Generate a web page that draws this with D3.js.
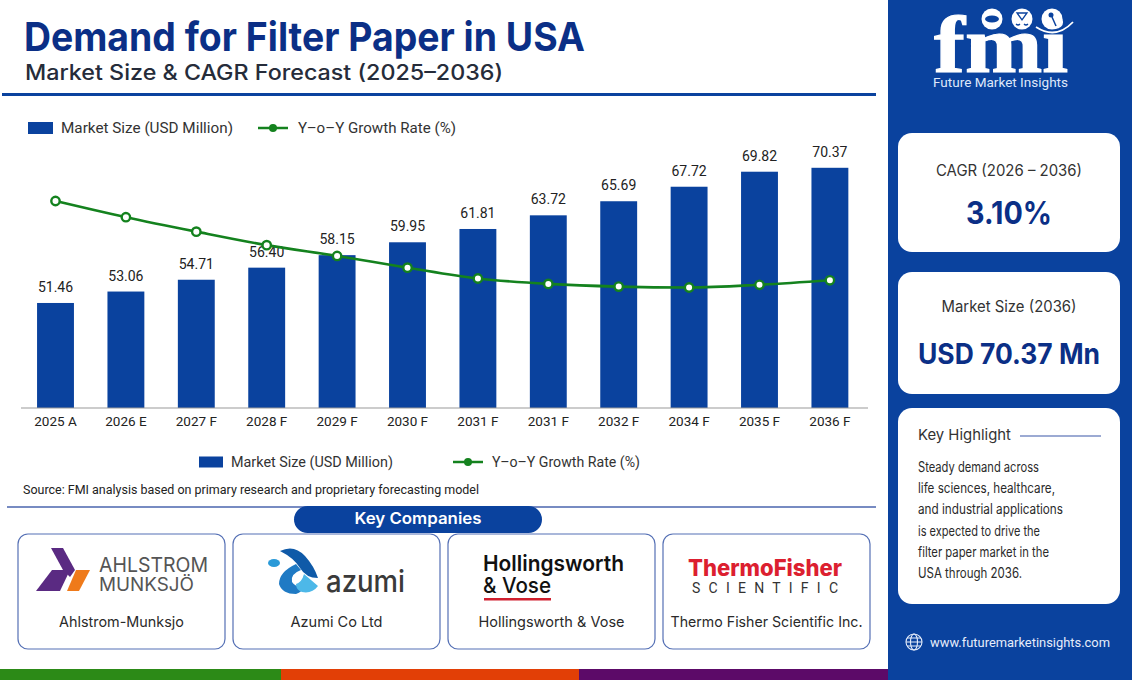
<!DOCTYPE html>
<html>
<head>
<meta charset="utf-8">
<script src="https://cdn.jsdelivr.net/npm/d3@7"></script>
<style>
html, body { margin: 0; padding: 0; background: #fff; }
svg { display: block; }
text { font-family: Roboto, "Noto Sans", sans-serif; }
</style>
</head>
<body>
<script>
// chart data
const periods = ["2025 A", "2026 E", "2027 F", "2028 F", "2029 F", "2030 F", "2031 F", "2031 F", "2032 F", "2034 F", "2035 F", "2036 F"];
const marketSize = [51.46, 53.06, 54.71, 56.40, 58.15, 59.95, 61.81, 63.72, 65.69, 67.72, 69.82, 70.37];
// the growth line carries no labels, so these are estimates from its height
const growthRate = [3.60, 3.42, 3.26, 3.11, 2.99, 2.86, 2.74, 2.68, 2.65, 2.64, 2.67, 2.72];
const companies = ["Ahlstrom-Munksjo", "Azumi Co Ltd", "Hollingsworth & Vose", "Thermo Fisher Scientific Inc."];
const highlight = ["Steady demand across", "life sciences, healthcare,", "and industrial applications", "is expected to drive the", "filter paper market in the", "USA through 2036."];

const w = 1132, h = 680;
const navy = "#0b2f86", blue = "#0a429e", green = "#14821e", ink = "#222";
const wide = "Inter, Roboto, sans-serif";

const svg = d3.select("body").append("svg").attr("width", w).attr("height", h);

function label(x, y, str, size, opts) {
    opts = opts || {};
    const t = svg.append("text")
        .attr("x", x).attr("y", y)
        .attr("font-size", size)
        .attr("fill", opts.fill || ink)
        .attr("font-weight", opts.weight || 400)
        .attr("text-anchor", opts.anchor || "start")
        .text(str);
    if (opts.family) t.style("font-family", opts.family);
    if (opts.len) t.attr("textLength", opts.len).attr("lengthAdjust", "spacingAndGlyphs");
    return t;
}

svg.append("rect").attr("width", w).attr("height", h).attr("fill", "#fff");

//* header
label(24, 51, "Demand for Filter Paper in USA", 40, {fill: navy, weight: 700, len: 561, family: wide});
label(25, 80, "Market Size & CAGR Forecast (2025\u20132036)", 21, {fill: "#262c3a", weight: 500, len: 478, family: wide});
svg.append("rect").attr("x", 2).attr("y", 93).attr("width", 874).attr("height", 3).attr("fill", blue);

//* scales and axis
const xScale = d3.scaleBand()
    .domain(d3.range(periods.length))
    .range([20.3, 865.1])
    .paddingInner(0.476)
    .paddingOuter(0.238);
const yScale = d3.scaleLinear().domain([36.77, 70.62]).range([408, 166]);
const rateScale = d3.scaleLinear().domain([3.60, 2.64]).range([201, 287.5]);
const cx = i => xScale(i) + xScale.bandwidth() / 2;

svg.selectAll("rect.bar")
    .data(marketSize)
    .enter()
    .append("rect")
    .attr("class", "bar")
    .attr("x", (d, i) => xScale(i))
    .attr("y", d => yScale(d))
    .attr("width", xScale.bandwidth())
    .attr("height", d => yScale.range()[0] - yScale(d))
    .attr("fill", blue);

svg.selectAll("text.value")
    .data(marketSize)
    .enter()
    .append("text")
    .attr("class", "value")
    .attr("x", (d, i) => cx(i))
    .attr("y", d => yScale(d) - 11)
    .attr("text-anchor", "middle")
    .attr("font-size", 14)
    .attr("fill", ink)
    .text(d => d.toFixed(2));

const xAxis = d3.axisBottom(xScale).tickSize(0).tickPadding(8).tickFormat(i => periods[i]);
const axisG = svg.append("g").attr("transform", "translate(0,408)").call(xAxis);
axisG.select(".domain").remove();
axisG.selectAll("text").attr("font-size", 13.5).attr("fill", ink).style("font-family", "Roboto, sans-serif");
svg.append("line").attr("x1", 21).attr("x2", 868).attr("y1", 408).attr("y2", 408).attr("stroke", "#999");

const line = d3.line()
    .x((d, i) => cx(i))
    .y(d => rateScale(d))
    .curve(d3.curveMonotoneX);
svg.append("path").datum(growthRate)
    .attr("d", line)
    .attr("fill", "none")
    .attr("stroke", green)
    .attr("stroke-width", 2.6);
svg.selectAll("circle.rate")
    .data(growthRate)
    .enter()
    .append("circle")
    .attr("class", "rate")
    .attr("cx", (d, i) => cx(i))
    .attr("cy", d => rateScale(d))
    .attr("r", 4.2)
    .attr("fill", "#fff")
    .attr("stroke", green)
    .attr("stroke-width", 2.4);

//* legends, top and bottom
function legend(x0, x1, x2, x3, yMid, rw, rh, size, nameLen) {
    svg.append("rect").attr("x", x0).attr("y", yMid - rh / 2).attr("width", rw).attr("height", rh).attr("fill", blue);
    label(x0 + rw + 8, yMid + 5, "Market Size (USD Million)", size, {fill: "#333", len: nameLen});
    svg.append("line").attr("x1", x1).attr("x2", x1 + 30).attr("y1", yMid).attr("y2", yMid).attr("stroke", green).attr("stroke-width", 2.5);
    svg.append("circle").attr("cx", x1 + 15).attr("cy", yMid).attr("r", 4).attr("fill", green);
    label(x2, yMid + 5, "Y\u2013o\u2013Y Growth Rate (%)", size, {fill: "#333", len: x3 - x2});
}
legend(28, 258, 298, 456, 128, 25, 12, 14.5, 172);
legend(199, 453, 492, 640, 462, 24, 11, 14, 162);

label(23, 494, "Source: FMI analysis based on primary research and proprietary forecasting model", 12.5, {fill: "#222", len: 456});

//* key companies
svg.append("line").attr("x1", 7).attr("x2", 876).attr("y1", 507).attr("y2", 507).attr("stroke", "#4a64ae").attr("stroke-width", 1.3);
svg.append("rect").attr("x", 294).attr("y", 506).attr("width", 248).attr("height", 27).attr("rx", 13.5).attr("fill", blue);
label(418, 524, "Key Companies", 16, {fill: "#fff", weight: 600, anchor: "middle", family: wide, len: 127});

const cardW = 207, cardX = [18, 233, 448, 663];
const nameLen = [125, 92, 146, 192];
companies.forEach((name, i) => {
    svg.append("rect").attr("x", cardX[i]).attr("y", 534).attr("width", cardW).attr("height", 115).attr("rx", 10)
        .attr("fill", "#fff").attr("stroke", "#5570b5").attr("stroke-width", 1.2);
    label(cardX[i] + cardW / 2, 627, name, 14.5, {anchor: "middle", len: nameLen[i], fill: "#2a2a2a", family: wide});
});

// Ahlstrom logo
svg.append("path").attr("fill", "#5a2a82").attr("d", "M51 548H63L75 570L70 577L63 570L51 548Z");
svg.append("path").attr("fill", "#5a2a82").attr("d", "M52 570H70L60 591H36Z");
svg.append("path").attr("fill", "#ef7a1a").attr("d", "M76 570H90L79 591H67Z");
label(99, 572, "AHLSTROM", 20, {fill: "#555", len: 109, family: wide});
label(99, 591, "MUNKSJ\u00d6", 18, {fill: "#555", len: 95, family: wide});

// Azumi logo
svg.append("path").attr("fill", "#0f5aa8").attr("d", "M280 551Q294 544 305 556Q314 566 318 578Q306 578 300 568Q294 558 280 551Z");
svg.append("path").attr("fill", "#1f7ac4").attr("d", "M296 564Q279 572 279 584Q282 594 296 594Q302 592 306 586Q296 588 292 582Q290 574 301 570Z");
svg.append("path").attr("fill", "#4db8e8").attr("d", "M304 574L318 586Q312 594 302 592Q296 590 296 584Q302 582 304 574Z");
svg.append("ellipse").attr("cx", 274).attr("cy", 563).attr("rx", 6).attr("ry", 4).attr("fill", "#2a9ad8");
label(326, 592, "azumi", 30, {fill: "#3a3a3a", weight: 500, len: 79, family: wide});

// Hollingsworth logo
label(483, 571, "Hollingsworth", 22, {fill: "#111", weight: 600, len: 141, family: wide});
label(483, 593, "& Vose", 22, {fill: "#111", weight: 500, len: 68, family: wide});
svg.append("rect").attr("x", 484).attr("y", 598).attr("width", 67).attr("height", 2.5).attr("fill", "#d01f2e");

// Thermo Fisher logo
label(688, 576, "ThermoFisher", 23, {fill: "#dc1f30", weight: 800, len: 154, family: wide});
label(692, 593, "SCIENTIFIC", 14, {fill: "#333", len: 146}).attr("lengthAdjust", "spacing");

//* bottom stripe
const stripe = [[0, 281, "#2c8a17"], [281, 579, "#e23f06"], [579, 888, "#5c0a68"]];
stripe.forEach(s => {
    svg.append("rect").attr("x", s[0]).attr("y", 669).attr("width", s[1] - s[0]).attr("height", 11).attr("fill", s[2]);
});

//* side panel
svg.append("rect").attr("x", 888).attr("y", 0).attr("width", 244).attr("height", h).attr("fill", blue);

// fmi logo
label(934, 72, "fmi", 80, {fill: "#fff", weight: 700, len: 134, family: "'Liberation Serif', serif"}).attr("stroke", "#fff").attr("stroke-width", 1.2);
[992, 1022, 1052].forEach(x => {
    svg.append("circle").attr("cx", x).attr("cy", 19).attr("r", 10.5).attr("fill", "#fff");
});
svg.append("ellipse").attr("cx", 992).attr("cy", 19).attr("rx", 7).attr("ry", 3.5).attr("fill", blue);
svg.append("path").attr("d", "M1017 13H1027L1022 20Z").attr("fill", "none").attr("stroke", blue).attr("stroke-width", 1.3);
svg.append("path").attr("d", "M1016 24Q1018 26 1020 24M1024 24Q1026 26 1028 24").attr("fill", "none").attr("stroke", blue).attr("stroke-width", 1.3);
svg.append("circle").attr("cx", 1051).attr("cy", 15).attr("r", 2.5).attr("fill", blue);
svg.append("path").attr("d", "M1052 17L1056 26").attr("stroke", blue).attr("stroke-width", 1.5);
svg.append("path").attr("d", "M1036 27Q1056 40 1073 22").attr("fill", "none").attr("stroke", "#fff").attr("stroke-width", 1.8);
label(933, 87, "Future Market Insights", 13.5, {fill: "#dfe8fa", len: 135});

// side cards
[[133, 119], [272, 122], [408, 196]].forEach(c => {
    svg.append("rect").attr("x", 898).attr("y", c[0]).attr("width", 222).attr("height", c[1]).attr("rx", 14).attr("fill", "#fff");
});
label(1009, 176, "CAGR (2026 \u2013 2036)", 15.5, {anchor: "middle", fill: "#333", len: 146, family: wide});
label(1009, 224, "3.10%", 31, {anchor: "middle", fill: navy, weight: 700, family: wide, len: 86});
label(1009, 312, "Market Size (2036)", 15.5, {anchor: "middle", fill: "#333", len: 135, family: wide});
label(1009, 364, "USD 70.37 Mn", 28, {anchor: "middle", fill: navy, weight: 700, family: wide, len: 182});
label(918, 440, "Key Highlight", 15, {fill: "#333", len: 93, family: wide});
svg.append("line").attr("x1", 1020).attr("x2", 1101).attr("y1", 436).attr("y2", 436).attr("stroke", "#3a56a8").attr("stroke-width", 1.2);
const hlLen = [121, 137, 145, 122, 131, 104];
highlight.forEach((s, i) => {
    label(918, 472 + i * 21.2, s, 14, {fill: "#2a2a2a", len: hlLen[i], family: wide});
});

// globe and url
const globe = svg.append("g").attr("fill", "none").attr("stroke", "#e6edfb").attr("stroke-width", 1.1);
globe.append("circle").attr("cx", 914).attr("cy", 642).attr("r", 8);
globe.append("ellipse").attr("cx", 914).attr("cy", 642).attr("rx", 3.5).attr("ry", 8);
globe.append("path").attr("d", "M906 642H922M907 638H921M907 646H921");
label(930, 647, "www.futuremarketinsights.com", 13.5, {fill: "#e6edfb", len: 180});
</script>
</body>
</html>
